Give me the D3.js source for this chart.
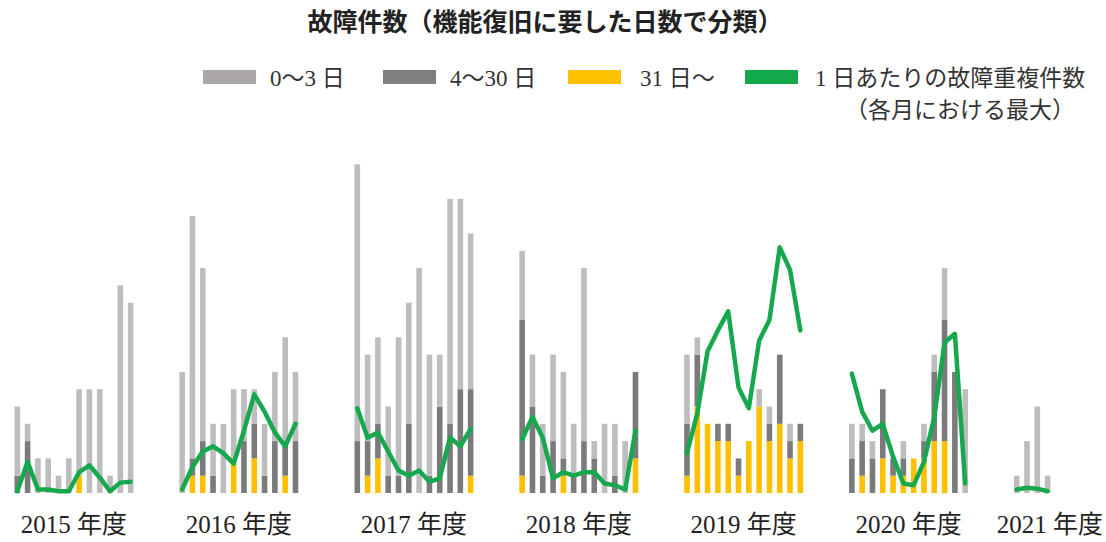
<!DOCTYPE html>
<html>
<head>
<meta charset="utf-8">
<script src="https://cdn.jsdelivr.net/npm/d3@7"></script>
<style>
  body { margin: 0; background: #fff; }
  svg { display: block; }
</style>
</head>
<body>
<svg id="chart" width="1106" height="542"></svg>
<script>
// fiscal years (labels) and month counts per group
const years = ["2015 年度", "2016 年度", "2017 年度", "2018 年度", "2019 年度", "2020 年度", "2021 年度"];

// failures by days needed to restore, per month (Apr..Mar)
const days0to3 = [
  [4, 1, 2, 2, 1, 2, 5, 6, 6, 1, 12, 11],
  [7, 14, 10, 3, 4, 4, 3, 2, 3, 4, 6, 4],
  [16, 5, 5, 4, 8, 7, 13, 7, 3, 13, 11, 9],
  [4, 3, 3, 5, 5, 3, 10, 1, 4, 3, 3, 0],
  [4, 1, 0, 0, 0, 0, 0, 1, 1, 0, 1, 0],
  [2, 1, 1, 0, 0, 1, 0, 1, 1, 3, 0, 6],
  [1, 3, 5, 1]
];
const days4to30 = [
  [1, 3, 0, 0, 0, 0, 0, 0, 0, 0, 0, 0],
  [0, 1, 2, 1, 0, 0, 3, 2, 1, 3, 2, 3],
  [3, 2, 2, 1, 1, 4, 0, 1, 5, 4, 6, 5],
  [9, 5, 1, 3, 1, 1, 3, 2, 0, 1, 0, 5],
  [3, 3, 0, 1, 1, 1, 0, 0, 1, 4, 1, 1],
  [2, 2, 2, 4, 1, 1, 0, 1, 4, 7, 7, 0],
  [0, 0, 0, 0]
];
const days31plus = [
  [0, 0, 0, 0, 0, 0, 1, 0, 0, 0, 0, 0],
  [0, 1, 1, 0, 0, 2, 0, 2, 0, 0, 1, 0],
  [0, 1, 2, 0, 0, 0, 0, 0, 0, 0, 0, 1],
  [1, 0, 0, 0, 1, 0, 0, 0, 0, 0, 0, 2],
  [1, 5, 4, 3, 3, 1, 3, 5, 3, 4, 2, 3],
  [0, 1, 0, 2, 1, 1, 2, 2, 3, 3, 0, 0],
  [0, 0, 0, 0]
];
// max duplicated failures per day (monthly max)
const dupMax = [
  [0.1, 1.8, 0.2, 0.2, 0.1, 0.1, 1.2, 1.6, 0.9, 0.1, 0.6, 0.65],
  [0.2, 1.5, 2.4, 2.7, 2.3, 1.7, 3.6, 5.7, 4.7, 3.5, 2.7, 4.0],
  [4.9, 3.2, 3.5, 2.4, 1.3, 1.0, 1.3, 0.65, 0.85, 3.2, 2.7, 3.7],
  [3.1, 4.4, 3.2, 0.85, 1.2, 1.0, 1.2, 1.2, 0.55, 0.45, 0.2, 3.6],
  [2.3, 4.6, 8.2, 9.4, 10.5, 6.1, 4.9, 8.8, 10.0, 14.2, 12.9, 9.4],
  [6.9, 4.7, 3.6, 4.0, 2.1, 0.55, 0.45, 1.8, 4.4, 8.7, 9.2, 0.55],
  [0.2, 0.3, 0.25, 0.1]
];

const legendItems = [
  { label: "0～3 日", color: "#aca8a7" },
  { label: "4～30 日", color: "#7f7f7f" },
  { label: "31 日～", color: "#ffc000" },
  { label: "1 日あたりの故障重複件数", color: "#13a94b" }
];

const width = 1106, height = 542;
const colors = { light: "#bdbdbd", dark: "#7b7b7b", yellow: "#ffc000", green: "#16a84c" };
const serif = "'Liberation Serif', 'Noto Sans CJK JP', serif";
const sans = "'Noto Sans CJK JP', 'Noto Sans', sans-serif";

const svg = d3.select("#chart");
svg.append("rect").attr("width", width).attr("height", height).attr("fill", "#fff");

// slot layout: 12 months per year, gap slots between years
const gaps = [0, 4, 5, 4, 4, 4, 4];
const offsets = [];
let acc = 0;
years.forEach((y, i) => { acc += i === 0 ? 0 : 12 + gaps[i]; offsets.push(acc); });

const x = d3.scaleLinear().domain([0, offsets[offsets.length - 1]]).range([17.3, 1016.7]);
const y = d3.scaleLinear().domain([0, 19]).range([493, 164.3]);
const yLine = d3.scaleLinear().domain([0, 19]).range([493, 164.3]);
const bw = 5.6;

// build stacked rows
const rows = [];
years.forEach((yr, g) => {
  days0to3[g].forEach((v, m) => {
    rows.push({ g, m, slot: offsets[g] + m, light: v, dark: days4to30[g][m], yellow: days31plus[g][m] });
  });
});
const stack = d3.stack().keys(["yellow", "dark", "light"]);
const series = stack(rows);

svg.append("g").selectAll("g")
  .data(series)
  .join("g")
    .attr("fill", d => colors[d.key])
  .selectAll("rect")
  .data(d => d.filter(p => p[1] > p[0]))
  .join("rect")
    .attr("x", d => x(d.data.slot) - bw / 2)
    .attr("y", d => y(d[1]))
    .attr("width", bw)
    .attr("height", d => y(d[0]) - y(d[1]));

// green lines, one per year
const line = d3.line()
  .x(d => x(d.slot))
  .y(d => yLine(d.v));

svg.append("g").selectAll("path")
  .data(dupMax.map((arr, g) => arr.map((v, m) => ({ slot: offsets[g] + m, v }))))
  .join("path")
    .attr("fill", "none")
    .attr("stroke", colors.green)
    .attr("stroke-width", 4.5)
    .attr("stroke-linejoin", "round")
    .attr("stroke-linecap", "round")
    .attr("d", line);

// year labels
svg.append("g").selectAll("text")
  .data(years)
  .join("text")
    .attr("x", (d, i) => x(offsets[i] + 5.5))
    .attr("y", 533)
    .attr("text-anchor", "middle")
    .attr("font-family", serif)
    .attr("font-size", 25)
    .attr("fill", "#222")
    .text(d => d)
    .each(function () {
      const w = this.getComputedTextLength();
      const cx = +this.getAttribute("x");
      if (cx + w / 2 > width - 3) this.setAttribute("x", width - 3 - w / 2);
    });

// title
svg.append("text")
  .attr("x", 545)
  .attr("y", 31)
  .attr("text-anchor", "middle")
  .attr("font-family", sans)
  .attr("font-weight", "bold")
  .attr("font-size", 25)
  .attr("fill", "#222")
  .text("故障件数（機能復旧に要した日数で分類）");

// legend
const legendX = [203, 383, 568, 745];
const lg = svg.append("g").selectAll("g")
  .data(legendItems)
  .join("g")
    .attr("transform", (d, i) => `translate(${legendX[i]},70)`);
lg.append("rect")
  .attr("width", 53)
  .attr("height", 14)
  .attr("fill", d => d.color);
lg.append("text")
  .attr("x", d => d.label.length > 8 ? 70 : (d.label.startsWith("31") ? 72 : 67))
  .attr("y", 16)
  .attr("font-family", serif)
  .attr("font-size", 23)
  .attr("fill", "#333")
  .text(d => d.label);

svg.append("text")
  .attr("x", 845)
  .attr("y", 118)
  .attr("font-family", serif)
  .attr("font-size", 23)
  .attr("fill", "#333")
  .text("（各月における最大）");
</script>
</body>
</html>
